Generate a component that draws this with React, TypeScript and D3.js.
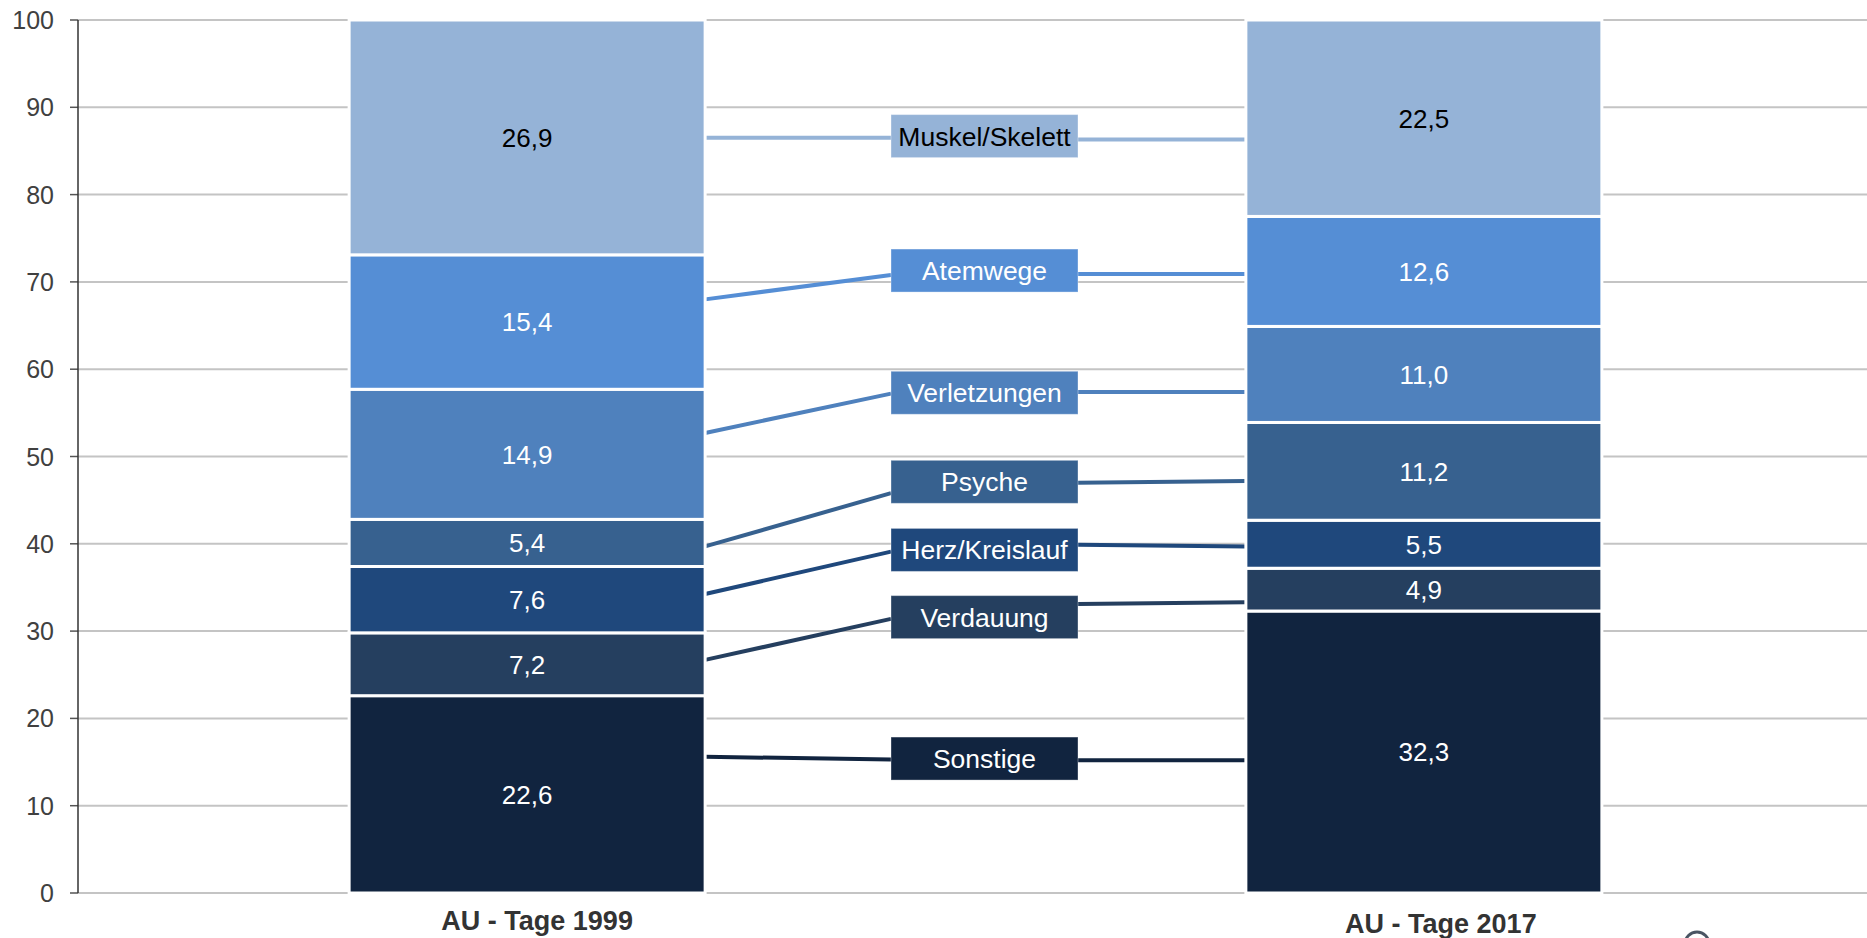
import React from 'react';
import * as d3 from 'd3';

const years = ['AU - Tage 1999', 'AU - Tage 2017'];
const categories = ['Sonstige', 'Verdauung', 'Herz/Kreislauf', 'Psyche', 'Verletzungen', 'Atemwege', 'Muskel/Skelett'];
const values1999 = [22.6, 7.2, 7.6, 5.4, 14.9, 15.4, 26.9];
const values2017 = [32.3, 4.9, 5.5, 11.2, 11.0, 12.6, 22.5];
const colors = ['#11243f', '#253f5f', '#1f487c', '#37618f', '#4f81bd', '#558ed5', '#95b3d7'];
const darkText = ['Muskel/Skelett'];

// leader lines, in percent units: at the 1999 bar, box in, box centre, box out, at the 2017 bar
const leaderStart = [15.6, 26.7, 34.25, 39.7, 52.7, 68.0, 86.5];
const leaderBoxIn = [15.3, 31.4, 39.1, 45.8, 57.2, 70.8, 86.5];
const boxCenter = [15.4, 31.6, 39.3, 47.1, 57.3, 71.3, 86.7];
const leaderBoxOut = [15.2, 33.1, 39.9, 47.0, 57.4, 70.9, 86.3];
const leaderEnd = [15.2, 33.3, 39.7, 47.2, 57.4, 70.9, 86.3];

const width = 1867;
const height = 938;
const margin = { top: 20, left: 78, bottom: 45 };
const font = '"Liberation Sans", Arial, sans-serif';

const de = d3.formatLocale({ decimal: ',', thousands: '.', grouping: [3], currency: ['', ' €'] });
const fmt = de.format('.1f');

const App: React.FC = () => {
  const y = d3.scaleLinear().domain([0, 100]).range([height - margin.bottom, margin.top]);
  const x = d3.scaleBand<string>().domain(years).range([81, 1870]).paddingInner(0.603).paddingOuter(0.299);
  const bw = x.bandwidth();

  const series = [values1999, values2017];
  const stacks = series.map(vals => {
    let acc = 0;
    return vals.map((v, i) => {
      const s = { cat: categories[i], v, y0: acc, y1: acc + v, color: colors[i] };
      acc += v;
      return s;
    });
  });

  const bar1Right = (x(years[0]) ?? 0) + bw;
  const bar2Left = x(years[1]) ?? 0;
  const boxW = 187;
  const boxH = 43;
  const boxX = (bar1Right + bar2Left) / 2 + 9 - boxW / 2;

  return (
    <div style={{ position: 'absolute', left: 0, top: 0 }}>
      <svg width={width} height={height} style={{ display: 'block', background: '#fff' }}>
        {/* Gridlines */}
        {y.ticks(10).map(t => (
          <g key={t}>
            <line x1={margin.left} x2={width} y1={y(t)} y2={y(t)} stroke="#c4c4c4" strokeWidth={2} />
            <line x1={margin.left - 8} x2={margin.left} y1={y(t)} y2={y(t)} stroke="#555" strokeWidth={1.5} />
            <text x={54} y={y(t)} dy="0.36em" textAnchor="end" fontFamily={font} fontSize={25} fill="#404040">
              {t}
            </text>
          </g>
        ))}
        <line x1={margin.left} x2={margin.left} y1={y(100)} y2={y(0)} stroke="#333" strokeWidth={1.5} />

        {/* Leader lines */}
        {categories.map((c, i) => (
          <g key={c} stroke={colors[i]} strokeWidth={4} fill="none">
            <line x1={bar1Right} y1={y(leaderStart[i])} x2={boxX} y2={y(leaderBoxIn[i])} />
            <line x1={boxX + boxW} y1={y(leaderBoxOut[i])} x2={bar2Left} y2={y(leaderEnd[i])} />
          </g>
        ))}

        {/* Bars */}
        {stacks.map((segs, j) => (
          <g key={years[j]}>
            {segs.map(s => (
              <rect
                key={s.cat}
                x={x(years[j])}
                y={y(s.y1)}
                width={bw}
                height={y(s.y0) - y(s.y1)}
                fill={s.color}
                stroke="#fff"
                strokeWidth={3}
              />
            ))}
            {segs.map(s => (
              <text
                key={s.cat + 't'}
                x={(x(years[j]) ?? 0) + bw / 2}
                y={y((s.y0 + s.y1) / 2)}
                dy="0.36em"
                textAnchor="middle"
                fontFamily={font}
                fontSize={26}
                fill={darkText.includes(s.cat) ? '#000' : '#fff'}
              >
                {fmt(s.v)}
              </text>
            ))}
          </g>
        ))}

        {/* Category boxes */}
        {categories.map((c, i) => (
          <g key={c + 'box'}>
            <rect
              x={boxX}
              y={y(boxCenter[i]) - boxH / 2}
              width={boxW}
              height={boxH}
              fill={colors[i]}
              stroke="#ffffff"
              strokeOpacity={0.35}
              strokeWidth={1}
            />
            <text
              x={boxX + boxW / 2}
              y={y(boxCenter[i])}
              dy="0.36em"
              textAnchor="middle"
              fontFamily={font}
              fontSize={26.5}
              fill={darkText.includes(c) ? '#000' : '#fff'}
            >
              {c}
            </text>
          </g>
        ))}

        {/* Category axis labels */}
        {years.map((yr, j) => (
          <text
            key={yr}
            x={(x(yr) ?? 0) + bw / 2 + (j === 0 ? 10 : 17)}
            y={j === 0 ? 930 : 933}
            textAnchor="middle"
            fontFamily={font}
            fontWeight="bold"
            fontSize={27}
            fill="#333"
          >
            {yr}
          </text>
        ))}

        {/* cut-off icon at the bottom edge */}
        <circle cx={1697} cy={944} r={12} fill="none" stroke="#4a5563" strokeWidth={3} />
      </svg>
    </div>
  );
};

export default App;
